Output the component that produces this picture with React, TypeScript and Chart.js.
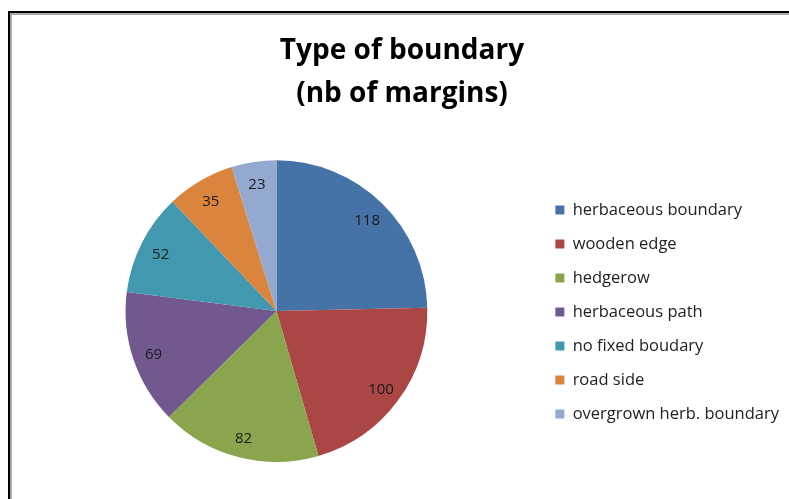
import React, { useEffect, useRef } from "react";
import { Chart, registerables } from "chart.js";

Chart.register(...registerables);

const categories = [
  "herbaceous boundary",
  "wooden edge",
  "hedgerow",
  "herbaceous path",
  "no fixed boudary",
  "road side",
  "overgrown herb. boundary",
];
const values = [118, 100, 82, 69, 52, 35, 23];
const colors = ["#4572A7", "#AA4643", "#89A54E", "#71588F", "#4198AF", "#DB843D", "#93A9CF"];
const titleLines = ["Type of boundary", "(nb of margins)"];

const labelPlugin = {
  id: "sliceLabels",
  afterDatasetsDraw(chart: any) {
    const ctx = chart.ctx;
    const meta = chart.getDatasetMeta(0);
    const data = chart.data.datasets[0].data;
    ctx.save();
    ctx.font = "15px 'Open Sans'";
    ctx.fillStyle = "#1a1a1a";
    ctx.textAlign = "center";
    ctx.textBaseline = "middle";
    meta.data.forEach((arc: any, i: number) => {
      const p = arc.getProps(["x", "y", "startAngle", "endAngle", "outerRadius"], true);
      const mid = (p.startAngle + p.endAngle) / 2;
      const r = p.outerRadius * 0.86;
      ctx.fillText(String(data[i]), p.x + Math.cos(mid) * r, p.y + Math.sin(mid) * r + 2);
    });
    ctx.restore();
  },
};

export default function App() {
  const ref = useRef<HTMLCanvasElement>(null);
  useEffect(() => {
    if (!ref.current) return;
    const chart = new Chart(ref.current, {
      type: "pie",
      data: {
        labels: categories,
        datasets: [
          {
            data: values,
            backgroundColor: colors,
            borderWidth: 0,
          },
        ],
      },
      options: {
        animation: false,
        responsive: true,
        maintainAspectRatio: false,
        layout: { padding: { left: 15, right: 0, top: 0, bottom: 37 } },
        plugins: {
          title: {
            display: true,
            text: titleLines,
            color: "#000",
            font: { family: "'Open Sans'", size: 28, weight: "bold", lineHeight: 1.54 },
            padding: { top: 29, bottom: 45 },
          },
          legend: {
            position: "right",
            align: "center",
            title: { display: true, text: " ", font: { size: 10 }, padding: { top: 150, bottom: 0 } },
            labels: {
              boxWidth: 9,
              boxHeight: 9,
              padding: 17.5,
              color: "#222",
              font: { family: "'Open Sans'", size: 16.5 },
            },
          },
          tooltip: { enabled: false },
        },
      },
      plugins: [labelPlugin],
    });
    return () => chart.destroy();
  }, []);
  return (
    <div style={{ position: "fixed", left: 0, top: 0, width: 789, height: 499, background: "#fff", overflow: "hidden" }}>
      <div
        style={{
          position: "absolute",
          left: 8,
          top: 11,
          width: 800,
          height: 500,
          borderLeft: "2px solid #000",
          borderTop: "2px solid #000",
        }}
      >
        <div style={{ width: "100%", height: "100%", borderLeft: "2px solid #a8a8a8", borderTop: "2px solid #a8a8a8" }} />
      </div>
      <div style={{ position: "absolute", left: 0, top: 0, width: 789, height: 499 }}>
        <canvas ref={ref} />
      </div>
    </div>
  );
}
